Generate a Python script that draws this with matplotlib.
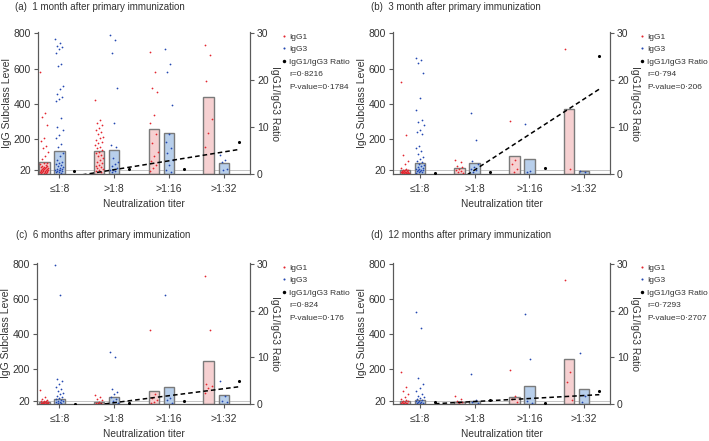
import numpy as np
import matplotlib.pyplot as plt
from matplotlib.lines import Line2D

plt.rcParams['font.family'] = ['Liberation Sans', 'DejaVu Sans']

groups = ['≤1:8', '>1:8', '>1:16', '>1:32']

titles = ['(a)  1 month after primary immunization',
          '(b)  3 month after primary immunization',
          '(c)  6 months after primary immunization',
          '(d)  12 months after primary immunization']

# (a) 1 month
a_igg1 = [[578, 347, 325, 278, 207, 188, 161, 146, 128, 105, 86, 65, 60, 55, 50, 48, 45, 42, 40, 38, 36,
           34, 32, 30, 28, 26, 25, 24, 22, 20, 19, 18, 16, 15, 14, 12, 10, 9, 8, 6, 5],
          [419, 306, 293, 278, 263, 250, 240, 225, 212, 203, 195, 184, 175, 165, 155, 146, 137, 128, 118,
           109, 100, 90, 80, 71, 62, 53, 45, 38, 34, 28, 22, 15, 10],
          [695, 578, 488, 466, 338, 293, 225, 175, 124, 100, 75, 53, 34, 15],
          [732, 678, 531, 312, 231, 156]]
a_igg3 = [[766, 744, 730, 720, 710, 691, 625, 616, 500, 485, 456, 438, 425, 413, 319, 268, 250, 222, 203,
           169, 156, 120, 100, 80, 70, 60, 55, 50, 45, 40, 35, 30, 28, 25, 22, 20, 18, 15, 12, 10, 8],
          [789, 762, 687, 488, 293, 165, 156, 90, 70, 55, 45, 35, 25, 20, 15, 10],
          [714, 625, 582, 394, 225, 184, 150, 118, 81, 49, 24, 11],
          [110, 78, 70, 30, 22]]
a_mean1 = [68, 133, 257, 437]
a_mean3 = [131, 139, 235, 62]
a_ratio = [0.56, 1.05, 1.1, 6.85]

# (b) 3 month
b_igg1 = [[526, 224, 107, 75, 57, 35, 30, 25, 22, 20, 18, 16, 15, 14, 12, 12, 10, 10, 9, 8, 8, 7, 6, 5, 5, 4],
          [79, 66, 47, 38, 29, 23, 16, 10, 8],
          [299, 79, 57, 29, 14],
          [712, 29]]
b_igg3 = [[661, 648, 630, 574, 434, 367, 308, 298, 280, 252, 237, 228, 159, 146, 131, 112, 98, 85, 75, 66,
           55, 50, 45, 40, 35, 30, 28, 25, 22, 20, 18, 15, 12, 10, 8],
          [345, 196, 75, 57, 38, 29, 20, 10],
          [284, 16, 10],
          [16, 10]]
b_mean1 = [23, 33, 105, 371]
b_mean3 = [62, 64, 83, 18]
b_ratio = [0.2, 0.35, 1.2, 25.2]

# (c) 6 months
c_igg1 = [[78, 40, 30, 25, 20, 18, 15, 12, 10, 10, 8, 7, 6, 5, 5, 4, 3],
          [52, 40, 27, 22, 14, 8, 7, 5],
          [422, 55, 37, 22, 14, 8],
          [732, 422, 112, 102, 89, 65]]
c_igg3 = [[797, 624, 146, 131, 112, 97, 84, 74, 65, 55, 45, 40, 35, 30, 25, 20, 15, 12, 10, 8, 6],
          [296, 271, 84, 70, 55, 40, 27, 18, 8],
          [623, 37, 22, 8],
          [131, 46, 18, 10]]
c_mean1 = [13, 12, 76, 246]
c_mean3 = [28, 40, 96, 49]
c_ratio = [0.07, 0.2, 0.57, 4.95]

# (d) 12 months
d_igg1 = [[183, 97, 74, 55, 40, 31, 25, 20, 15, 12, 10, 8, 6, 5, 4, 3],
          [46, 27, 18, 10, 7],
          [194, 46, 27, 14],
          [708, 181, 125, 22]]
d_igg3 = [[528, 436, 149, 115, 93, 74, 55, 46, 40, 35, 30, 25, 20, 15, 12, 10, 8, 6, 5],
          [174, 22, 14, 7],
          [515, 256, 18, 7],
          [294, 46, 14]]
d_mean1 = [17, 13, 40, 257]
d_mean3 = [22, 15, 104, 87]
d_ratio = [0.4, 0.78, 0.2, 2.75]

r_texts = ['r=0·8216', 'r=0·794', 'r=0·824', 'r=0·7293']
p_texts = ['P-value=0·1784', 'P-value=0·206', 'P-value=0·176', 'P-value=0·2707']

panels = [
    (a_igg1, a_igg3, a_mean1, a_mean3, a_ratio),
    (b_igg1, b_igg3, b_mean1, b_mean3, b_ratio),
    (c_igg1, c_igg3, c_mean1, c_mean3, c_ratio),
    (d_igg1, d_igg3, d_mean1, d_mean3, d_ratio),
]

W, H = 709, 441
# axes boxes in pixels: left, right, top, bottom
boxes = [(38, 250, 32, 174), (393, 610, 32, 174), (37, 250, 263, 404), (393, 610, 263, 404)]
xlims = [(-0.39, 3.48), (-0.49, 3.47), (-0.41, 3.48), (-0.49, 3.47)]
title_pos = [(15, 7), (371, 7), (16, 235), (371, 235)]
legend_pos = [(281, 33), (639, 33), (281, 264), (639, 264)]

red = '#e3262f'
blue = '#2448b0'
pink = '#f6d0d1'
lightblue = '#b8cfeb'
edge = '#7a7a7a'
spine_c = '#5a5a5a'
text_c = '#333333'

off = 0.275
bw = 0.19

fig = plt.figure(figsize=(W / 100, H / 100), dpi=100)

for k, (igg1, igg3, m1, m3, ratio) in enumerate(panels):
    l, r, t, b = boxes[k]
    ax = fig.add_axes([l / W, 1 - b / H, (r - l) / W, (b - t) / H])
    x = np.arange(len(groups))

    ax.bar(x - off, m1, width=bw, color=pink, edgecolor=edge, linewidth=1.0, zorder=2)
    ax.bar(x, m3, width=bw, color=lightblue, edgecolor=edge, linewidth=1.0, zorder=2)

    for g in range(len(groups)):
        for vals, xc, col in ((igg1[g], x[g] - off, red), (igg3[g], x[g], blue)):
            n = len(vals)
            jit = ((np.arange(n) * 0.618034) % 1 - 0.5) * 0.15
            ax.scatter(xc + jit, vals, s=1.6, color=col, linewidths=0, zorder=3)

    ax.axhline(20, color='#c4c4c4', lw=0.7, zorder=1)
    ax.set_xlim(*xlims[k])
    ax.set_ylim(0, 808)
    ax.set_yticks([20, 200, 400, 600, 800])
    ax.set_xticks(x)
    ax.set_xticklabels(groups)
    ax.set_ylabel('IgG Subclass Level', fontsize=7.5, color=text_c, labelpad=1)
    ax.set_xlabel('Neutralization titer', fontsize=7.3, color=text_c, labelpad=4)
    ax.tick_params(labelsize=7.5, length=3, width=0.8, color=spine_c, labelcolor=text_c, pad=2)
    ax.tick_params(axis='x', pad=4)
    ax.spines['top'].set_visible(False)
    for s in ('left', 'bottom', 'right'):
        ax.spines[s].set_color(spine_c)
        ax.spines[s].set_linewidth(0.8)

    ax2 = ax.twinx()
    xr = x + off
    ax2.scatter(xr, ratio, s=5, color='black', linewidths=0, zorder=4)
    slope, icpt = np.polyfit(xr, ratio, 1)
    xl = np.array([xr[0], xr[-1]])
    ax2.plot(xl, slope * xl + icpt, color='black', lw=1.1, ls=(0, (3, 2)), zorder=4)
    ax2.set_ylim(0, 30.3)
    ax2.set_yticks([0, 10, 20, 30])
    ax2.set_ylabel('IgG1/IgG3 Ratio', fontsize=7.5, color=text_c, rotation=270, labelpad=8)
    ax2.tick_params(labelsize=7.5, length=3, width=0.8, color=spine_c, labelcolor=text_c, pad=2)
    ax2.spines['top'].set_visible(False)
    for s in ('left', 'bottom', 'right'):
        ax2.spines[s].set_color(spine_c)
        ax2.spines[s].set_linewidth(0.8)

    handles = [Line2D([], [], ls='none', marker='o', ms=1.5, color=red, mew=0),
               Line2D([], [], ls='none', marker='o', ms=1.5, color=blue, mew=0),
               Line2D([], [], ls='none', marker='o', ms=2.5, color='black', mew=0),
               Line2D([], [], ls='none'),
               Line2D([], [], ls='none')]
    labels = ['IgG1', 'IgG3', 'IgG1/IgG3 Ratio', r_texts[k], p_texts[k]]
    lx, ly = legend_pos[k]
    leg = ax2.legend(handles, labels, loc='upper left', bbox_to_anchor=(lx / W, 1 - ly / H),
                     bbox_transform=fig.transFigure, frameon=False, fontsize=6,
                     handlelength=0.6, handletextpad=0.4, borderpad=0, borderaxespad=0,
                     labelspacing=0.55)
    for txt in leg.get_texts():
        txt.set_color(text_c)

    tx, ty = title_pos[k]
    fig.text(tx / W, 1 - ty / H, titles[k], fontsize=7, color=text_c, ha='left', va='center')

fig.savefig('out.png', dpi=100)
